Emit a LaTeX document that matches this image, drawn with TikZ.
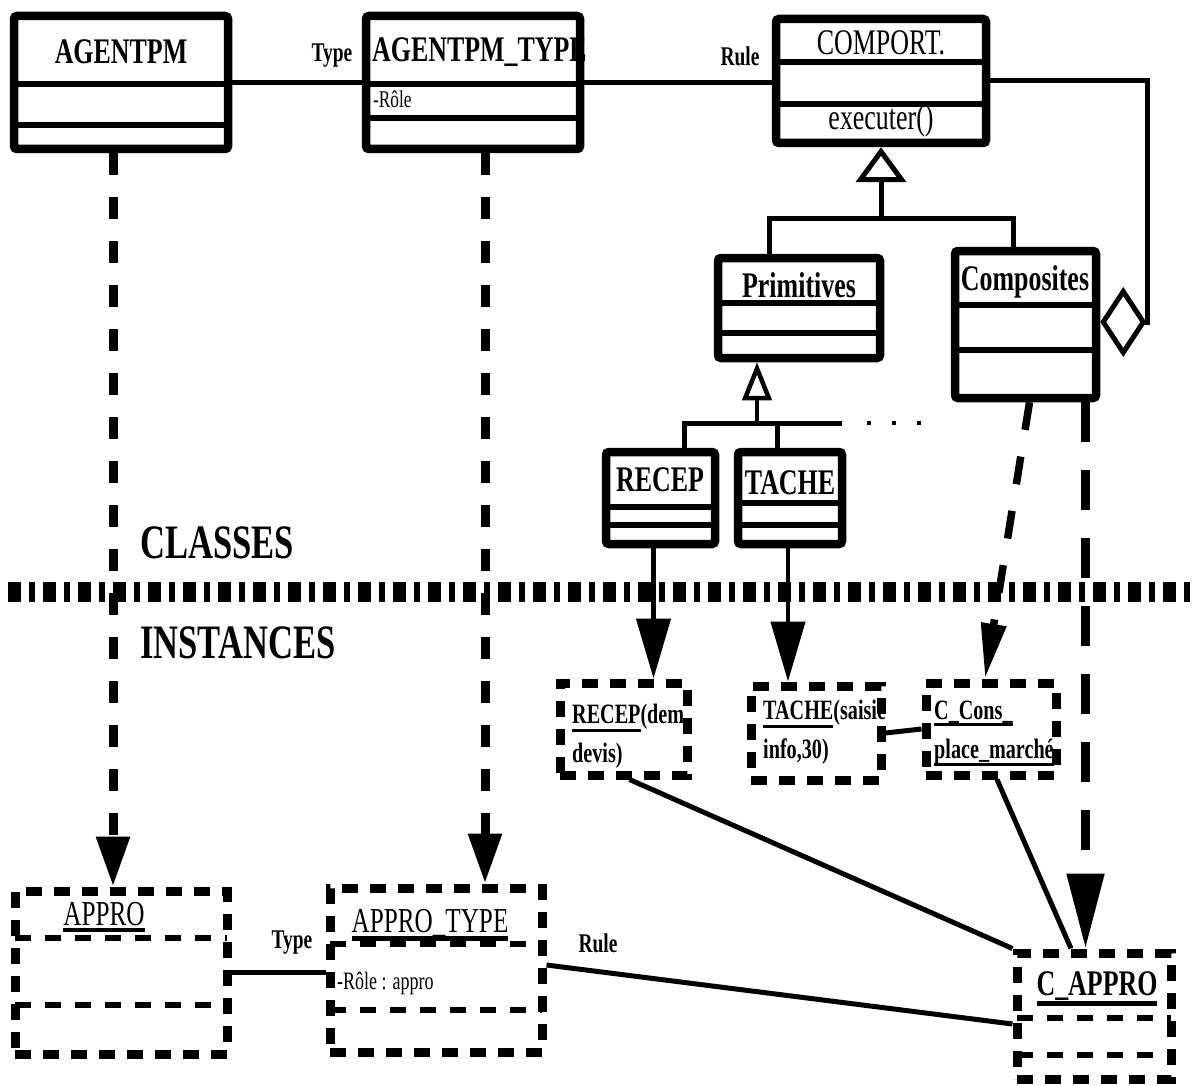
\documentclass[tikz,border=0pt]{standalone}
\usepackage{fontspec}
\setmainfont{Liberation Serif}[FakeStretch=0.72]
\usetikzlibrary{arrows.meta}
% underline of given depth and thickness below a piece of text
\newcommand\ulx[3]{\setbox0\hbox{#3}\rlap{\rule[-#1]{\wd0}{#2}}\box0}
\begin{document}
\begin{tikzpicture}[x=1pt,y=-1pt,
  cls/.style={draw, line width=8.5pt, rounded corners=3pt, inner sep=0pt},
  inst/.style={draw, line width=9pt, dash pattern=on 16pt off 12pt, inner sep=0pt},
  divl/.style={line width=5.5pt},
  idiv/.style={line width=5.5pt, dash pattern=on 16pt off 14pt},
  assoc/.style={line width=5pt},
  lbl/.style={font=\fontsize{27}{30}\selectfont\bfseries, inner sep=0pt},
  ttl/.style={font=\fontsize{36}{40}\selectfont\bfseries, inner sep=0pt},
  ttr/.style={font=\fontsize{36}{40}\selectfont, inner sep=0pt},
  itxt/.style={font=\fontsize{28}{39}\selectfont\bfseries, inner sep=0pt, align=left, anchor=north west},
  big/.style={font=\fontsize{48}{52}\selectfont\bfseries, inner sep=0pt, anchor=west},
  instof/.style={line width=9pt, dash pattern=on 22pt off 22pt, -{Triangle[length=50pt,width=32pt]}},
  instsolid/.style={line width=4.5pt, -{Triangle[length=60pt,width=34pt]}},
  genl/.style={line width=5pt, -{Triangle[open,length=35pt,width=50pt]}},
  aggr/.style={line width=5pt, -{Diamond[open,length=46pt,width=70pt]}},
  sepline/.style={line width=20pt, dash pattern=on 13pt off 8pt on 6pt off 8pt}
]
\useasboundingbox (0,0) rectangle (1193,1086);
\fill[white] (0,0) rectangle (1193,1086);

% ---------- class level ----------
\node[ttl, anchor=west] (agtypeT) at (372,52) {AGENTPM\_TYPE};

\node[cls, minimum width=214pt, minimum height=133pt] (agentpm) at (121,82.5) {};
\node[cls, minimum width=214pt, minimum height=133pt] (agtype) at (473,82.5) {};
\node[cls, minimum width=210pt, minimum height=124pt] (comport) at (881,81) {};
\node[cls, minimum width=162pt, minimum height=100pt] (prim) at (799,308) {};
\node[cls, minimum width=141pt, minimum height=147pt] (comp) at (1025.5,324.5) {};
\node[cls, minimum width=109pt, minimum height=92pt] (recep) at (660.5,498) {};
\node[cls, minimum width=104pt, minimum height=92pt] (tache) at (790,498) {};

% compartments
\draw[divl] (14,84) -- (228,84);  \draw[divl] (14,125) -- (228,125);
\draw[divl] (366,84) -- (580,84); \draw[divl] (366,118) -- (580,118);
\draw[divl] (776,62) -- (986,62); \draw[divl] (776,104) -- (986,104);
\draw[divl] (718,303) -- (880,303); \draw[divl] (718,333) -- (880,333);
\draw[divl] (955,305) -- (1096,305); \draw[divl] (955,350) -- (1096,350);
\draw[divl] (606,507) -- (715,507); \draw[divl] (606,525) -- (715,525);
\draw[divl] (738,503) -- (842,503); \draw[divl] (738,525) -- (842,525);

% class names
\node[ttl] (agentpmT) at (121,52) {AGENTPM};
\node[font=\fontsize{24}{26}\selectfont, inner sep=0pt, anchor=west] (roleT) at (373,99) {-Rôle};
\node[ttr] (comportT) at (881,43) {COMPORT.};
\node[ttr] (execT) at (881,121) {executer()};
\node[ttl] (primT) at (799,285) {Primitives};
\node[ttl] (compT) at (1025,282) {Composites};
\node[ttl] (recepT) at (660,480) {RECEP};
\node[ttl] (tacheT) at (790,483) {TACHE};

% associations between classes
\draw[assoc] (agentpm.east) -- (agtype.west);
\node[lbl] (typeL) at (332,56) {Type};
\draw[assoc] (agtype.east) -- (agtype.east -| comport.west);
\node[lbl] (ruleL) at (740,56) {Rule};

% aggregation of behaviours in a composite
\coordinate (aggc) at (1147,322);
\draw[aggr] (comport.east) -| (aggc) -- (aggc -| comp.east);

% generalisation of COMPORT.
\coordinate (g1) at (881,218);
\coordinate (b1) at (769,218);
\coordinate (b2) at (1013,218);
\draw[genl] (g1) -- (comport.south);
\draw[assoc] (b1 |- prim.north) -- (b1) -- (b2) -- (b2 |- comp.north);

% generalisation of Primitives
\coordinate (g2) at (757,423);
\coordinate (b3) at (684,423);
\coordinate (b4) at (777,423);
\coordinate (b5) at (842,423);
\coordinate (b6) at (867,423);
\coordinate (b7) at (921,423);
\draw[line width=4.5pt, -{Triangle[open,length=38pt,width=29pt]}] (g2) -- (g2 |- prim.south);
\draw[assoc] (b3 |- recep.north) -- (b3) -- (b5);
\draw[assoc] (b4) -- (b4 |- tache.north);
\draw[line width=4pt, dash pattern=on 4pt off 21pt] (b6) -- (b7);

% ---------- separator ----------
\node[big] (classesT) at (140,543) {CLASSES};
\node[big] (instancesT) at (140,643) {INSTANCES};
\coordinate (sepL) at (8,592);
\coordinate (sepR) at (1193,592);

% ---------- instance level ----------
\node[inst, minimum width=127pt, minimum height=92pt] (recepI) at (623.5,729) {};
\node[inst, minimum width=130pt, minimum height=94pt] (tacheI) at (816,733) {};
\node[inst, minimum width=130pt, minimum height=92pt] (consI) at (991,729) {};
\node[inst, minimum width=212pt, minimum height=163pt] (approI) at (121,972.5) {};
\node[inst, minimum width=212pt, minimum height=164pt] (approtypeI) at (436,970) {};
\node[inst, minimum width=154pt, minimum height=126pt] (capproI) at (1094,1016) {};

\draw[idiv] (15,938) -- (227,938);   \draw[idiv] (15,1005) -- (227,1005);
\draw[idiv] (330,944) -- (542,944);  \draw[idiv] (330,1010) -- (542,1010);
\draw[idiv] (1017,1018) -- (1171,1018); \draw[idiv] (1017,1055) -- (1171,1055);

\node[itxt] (recepIT) at (572,704) {\ulx{8pt}{3pt}{RECEP}(dem\\devis)};
\node[itxt] (tacheIT) at (763,700) {\ulx{8pt}{3pt}{TACHE}(saisie\\info,30)};
\node[itxt] (consIT) at (934,701) {\ulx{6pt}{3pt}{C\_Cons\_}\\\ulx{7pt}{3pt}{place\_marché}};

\node[font=\fontsize{35}{40}\selectfont, inner sep=0pt, anchor=base] (approT) at (104,925) {\ulx{7pt}{4pt}{APPRO}};
\node[font=\fontsize{35}{40}\selectfont, inner sep=0pt, anchor=base] (approtypeT) at (430,932) {\ulx{9pt}{5pt}{APPRO\_TYPE}};
\node[font=\fontsize{25}{28}\selectfont, inner sep=0pt, anchor=west] (roleIT) at (337,983) {-Rôle : appro};
\node[font=\fontsize{36}{40}\selectfont\bfseries, inner sep=0pt, anchor=base] (capproT) at (1097,995) {\ulx{11pt}{5pt}{C\_APPRO}};

% links between instances
\draw[assoc] (tacheI.east) -- (consI.west);
\draw[assoc] ([xshift=6pt]recepI.south) -- (capproI.north west);
\draw[assoc] ([xshift=6pt]consI.south) -- ([xshift=-23pt]capproI.north);
\draw[assoc] (approI.east) -- (approI.east -| approtypeI.west);
\node[lbl] (typeIL) at (292,943) {Type};
\draw[assoc] ([yshift=5pt]approtypeI.east) -- ([yshift=-8pt]capproI.west);
\node[lbl] (ruleIL) at (598,943) {Rule};

% instance-of relations
\coordinate (a1) at ([xshift=-8pt]agentpm.south);
\coordinate (a2) at ([xshift=12pt]agtype.south);
\coordinate (r1) at ([xshift=-7pt]recep.south);
\coordinate (t1) at ([xshift=-2pt]tache.south);
\coordinate (c1) at ([xshift=4pt]comp.south);
\coordinate (c2) at ([xshift=60pt]comp.south);
\draw[instof] (a1) -- (a1 |- approI.north);
\draw[instof] (a2) -- (a2 |- approtypeI.north);
\draw[instsolid] (r1) -- (r1 |- recepI.north);
\draw[instsolid] (t1) -- (t1 |- tacheI.north);
\draw[line width=7.5pt, dash pattern=on 28pt off 27pt, -{Triangle[length=55pt,width=24pt]}] (c1) -- ([xshift=-6pt]consI.north);
\draw[line width=8.5pt, dash pattern=on 40pt off 28pt, -{Triangle[length=75pt,width=36pt]}] (c2) -- (c2 |- capproI.north);

\draw[sepline] (sepL) -- (sepR);
\end{tikzpicture}
\end{document}
